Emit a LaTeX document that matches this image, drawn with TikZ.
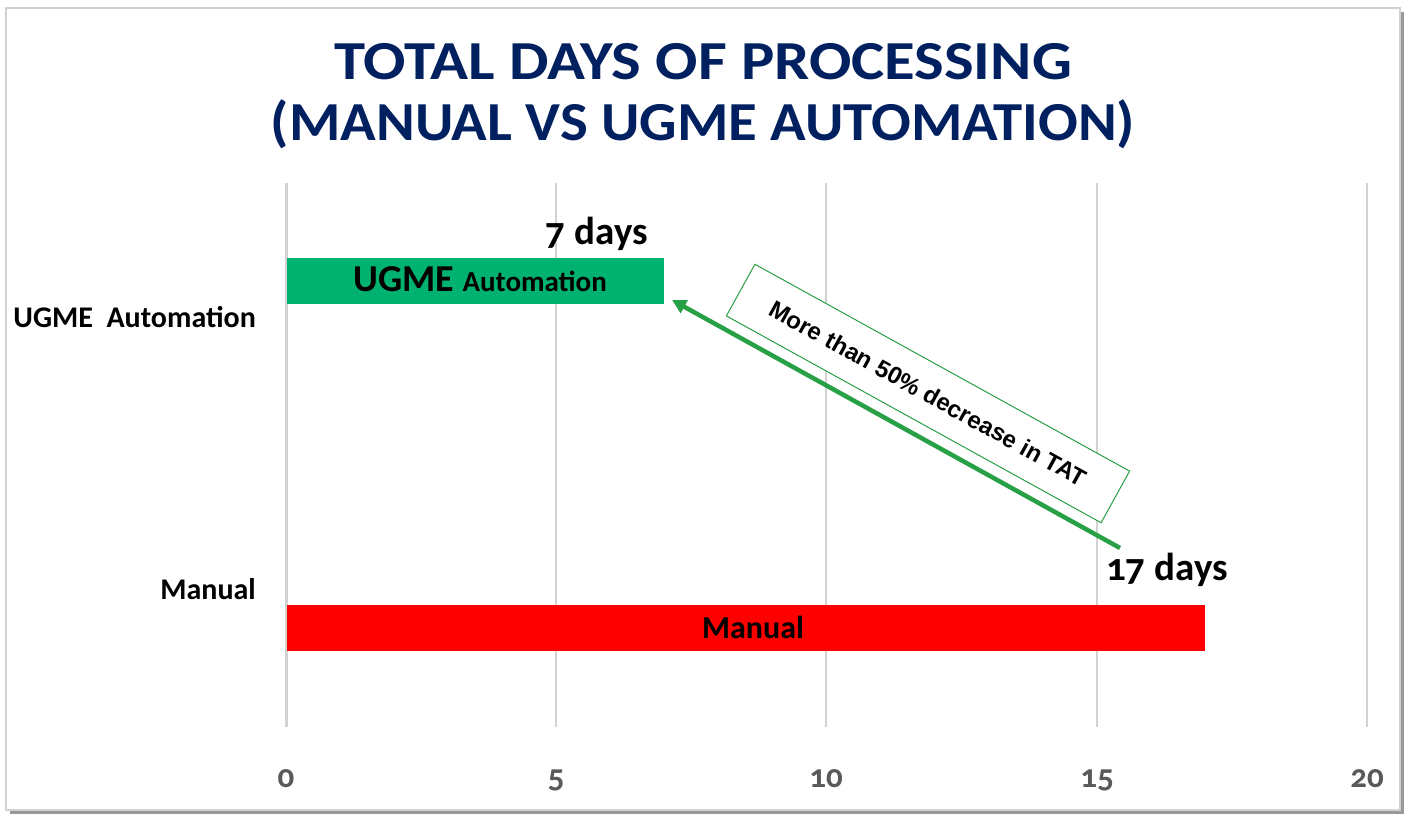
\documentclass[tikz,border=0pt]{standalone}
\usepackage{fontspec}
\usepackage{graphicx}
\setmainfont{Carlito}
\newfontfamily\oldnum{Carlito}[Numbers=OldStyle]
\newfontfamily\arialf{Liberation Sans}
\usetikzlibrary{arrows.meta}
\definecolor{navy}{RGB}{0,32,96}
\definecolor{barGreen}{RGB}{0,178,112}
\definecolor{arrGreen}{RGB}{40,160,70}
\definecolor{gridc}{RGB}{210,210,210}
\definecolor{axisnum}{RGB}{89,89,89}
\tikzset{
  titletext/.style={font=\bfseries\fontsize{55}{60}\selectfont, text=navy, inner sep=0pt, anchor=base},
  cattext/.style={font=\bfseries\fontsize{30}{34}\selectfont, inner sep=0pt, anchor=base east},
  daystext/.style={font=\oldnum\bfseries\fontsize{39}{42}\selectfont, inner sep=0pt},
  numtext/.style={font=\oldnum\bfseries\fontsize{33}{36}\selectfont, text=axisnum, inner sep=0pt, anchor=base},
  gridline/.style={draw=gridc, line width=1.2pt},
}
\begin{document}
\begin{tikzpicture}[x=1pt,y=-1pt]
\useasboundingbox (0,0) rectangle (1413,816);
% frame with shadow
\fill[gray!80] (10,12) rectangle (1404,814);
\fill[white,draw=gridc,line width=1.5pt] (6,8) rectangle (1400,810);
% grid
\foreach \x in {556,826,1097,1367} \draw[gridline] (\x,183) -- (\x,727);
\draw[draw=gridc,line width=3pt] (286,183) -- (286,727);
% axis numbers
\node[numtext] (n0) at (286,787) {0};
\node[numtext] (n5) at (556,787) {5};
\node[numtext] (n10) at (826,787) {10};
\node[numtext] (n15) at (1097,787) {15};
\node[numtext] (n20) at (1367,787) {20};
% title
\node[titletext] (t1) at (703,80) {\scalebox{1.14}[1]{TOTAL DAYS OF PROCESSING}};
\node[titletext] (t2) at (703,140) {\scalebox{1.07}[1]{(MANUAL VS UGME AUTOMATION)}};
% category labels
\node[cattext] (cu) at (256,327) {UGME\ \ Automation};
\node[cattext] (cm) at (256,599) {Manual};
% bars
\fill[barGreen] (287,258) rectangle (664,304);
\node[inner sep=0pt, anchor=base] (bu) at (480,291) {\bfseries\fontsize{38}{40}\selectfont UGME \fontsize{29}{32}\selectfont Automation};
\fill[red] (287,605) rectangle (1205,651);
\node[inner sep=0pt, anchor=base, font=\bfseries\fontsize{32}{34}\selectfont] (bm) at (753,638) {Manual};
% day labels
\node[daystext, anchor=base east] (d7) at (648,244) {7 days};
\node[daystext, anchor=base west] (d17) at (1106,580) {17 days};
% arrow
\coordinate (astart) at (1120,548);
\coordinate (aend) at (672,300);
\draw[arrGreen, line width=4.5pt, -{Triangle[length=14pt,width=14pt]}] (astart) -- (aend);
% rotated box
\node[draw=arrGreen, line width=1pt, fill=white, rotate=-28.9, minimum width=428pt, minimum height=59pt, inner sep=0pt, font=\arialf\bfseries\fontsize{24}{28}\selectfont] (box) at (928,393.5) {More than 50\% decrease in TAT};
\end{tikzpicture}
\end{document}
